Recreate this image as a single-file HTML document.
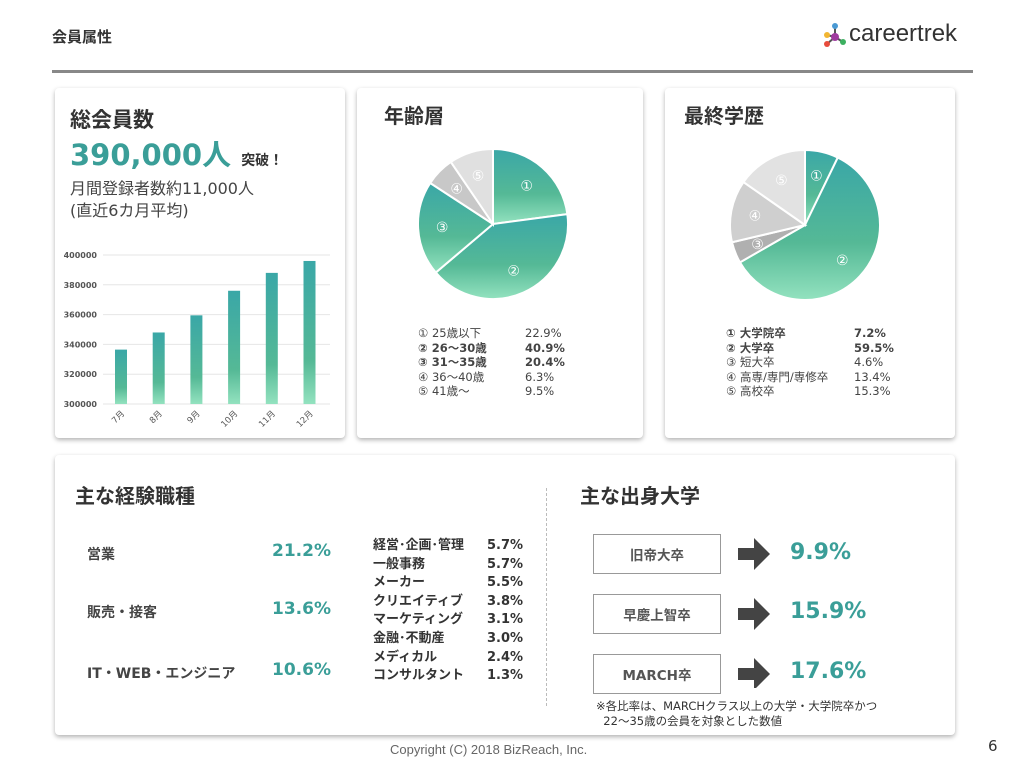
<!DOCTYPE html>
<html><head><meta charset="utf-8"><style>
body{margin:0;width:1024px;height:768px;background:#fff;position:relative;overflow:hidden;font-family:"DejaVu Sans","Noto Sans CJK JP",sans-serif;color:#444}
.a{position:absolute;white-space:nowrap}
.card{position:absolute;background:#fff;border-radius:4px;box-shadow:0 2px 5px rgba(0,0,0,.3)}
.b{font-weight:bold}
.t{color:#3a9e98}
.box{position:absolute;border:1.5px solid #999;width:126px;height:38px;display:flex;align-items:center;justify-content:center;font-weight:bold;font-size:13.5px;color:#555}
</style></head><body>
<div class="a b" style="left:52px;top:26px;font-size:15px;color:#333">会員属性</div>
<div class="a" style="left:822px;top:22px;width:150px;height:28px">
<svg width="30" height="28" style="position:absolute;left:0;top:0"><line x1="13" y1="4" x2="13" y2="15" stroke="#555" stroke-width="2"/><line x1="13" y1="15" x2="5" y2="22" stroke="#555" stroke-width="2"/><line x1="13" y1="15" x2="21" y2="20" stroke="#555" stroke-width="2"/><line x1="13" y1="15" x2="5" y2="13" stroke="#555" stroke-width="2"/><circle cx="13" cy="4" r="3" fill="#4a9ad4"/><circle cx="13" cy="15" r="4" fill="#a03ca0"/><circle cx="5" cy="22" r="3" fill="#e84c3c"/><circle cx="21" cy="20" r="3" fill="#3cb060"/><circle cx="5" cy="13" r="3" fill="#f2b632"/></svg>
<span class="a" style="left:27px;top:-2px;font-size:24px;color:#333;font-family:'Liberation Sans',sans-serif">careertrek</span></div>
<div class="a" style="left:52px;top:70px;width:921px;height:3px;background:#888"></div>

<div class="card" style="left:55px;top:88px;width:290px;height:350px"></div>
<div class="a b" style="left:70px;top:104px;font-size:21px;color:#333">総会員数</div>
<div class="a b t" style="left:70px;top:132px;font-size:29px">390,000人 <span style="font-size:14px;color:#333">突破！</span></div>
<div class="a" style="left:70px;top:178px;font-size:16px;line-height:22px;color:#444">月間登録者数約11,000人<br>(直近6カ月平均)</div>
<svg class="a" id="bar" style="left:0;top:0" width="360" height="450"></svg>

<div class="card" style="left:357px;top:88px;width:286px;height:350px"></div>
<div class="a b" style="left:384px;top:100px;font-size:20px;color:#333">年齢層</div>
<svg class="a" id="pie1" style="left:0;top:0" width="650" height="320"></svg>
<div class="a" id="leg1" style="left:418px;top:326px;font-size:11.5px;line-height:14.5px"></div>

<div class="card" style="left:665px;top:88px;width:290px;height:350px"></div>
<div class="a b" style="left:684px;top:100px;font-size:20px;color:#333">最終学歴</div>
<svg class="a" id="pie2" style="left:0;top:0" width="960" height="320"></svg>
<div class="a" id="leg2" style="left:726px;top:326px;font-size:11.5px;line-height:14.5px"></div>

<div class="card" style="left:55px;top:455px;width:900px;height:280px"></div>
<div class="a b" style="left:75px;top:480px;font-size:20px;color:#333">主な経験職種</div>
<div class="a b" style="left:87px;top:544px;font-size:14px">営業</div>
<div class="a b t" style="left:272px;top:541px;font-size:17px">21.2%</div>
<div class="a b" style="left:87px;top:602px;font-size:14px">販売・接客</div>
<div class="a b t" style="left:272px;top:599px;font-size:17px">13.6%</div>
<div class="a b" style="left:87px;top:663px;font-size:14px">IT・WEB・エンジニア</div>
<div class="a b t" style="left:272px;top:660px;font-size:17px">10.6%</div>
<div class="a b" style="left:373px;top:537px;font-size:13px;line-height:18.6px;color:#333">経営･企画･管理<br>一般事務<br>メーカー<br>クリエイティブ<br>マーケティング<br>金融･不動産<br>メディカル<br>コンサルタント</div>
<div class="a b" style="left:487px;top:537px;font-size:13px;line-height:18.6px;color:#333">5.7%<br>5.7%<br>5.5%<br>3.8%<br>3.1%<br>3.0%<br>2.4%<br>1.3%</div>
<div class="a" style="left:546px;top:488px;height:218px;border-left:1.5px dashed #bbb"></div>
<div class="a b" style="left:580px;top:480px;font-size:20px;color:#333">主な出身大学</div>
<div class="box" style="left:593px;top:534px">旧帝大卒</div>
<div class="box" style="left:593px;top:594px">早慶上智卒</div>
<div class="box" style="left:593px;top:654px">MARCH卒</div>
<svg class="a" style="left:738px;top:538px" width="32" height="150"><g fill="#444"><path d="M0 10h16v-10l16 16-16 16v-10h-16z"/><path d="M0 70h16v-10l16 16-16 16v-10h-16z"/><path d="M0 130h16v-10l16 16-16 16v-10h-16z"/></g></svg>
<div class="a b t" style="left:790px;top:540px;font-size:22px">9.9%</div>
<div class="a b t" style="left:790px;top:599px;font-size:22px">15.9%</div>
<div class="a b t" style="left:790px;top:659px;font-size:22px">17.6%</div>
<div class="a" style="left:596px;top:699px;font-size:11.5px;line-height:15px;color:#333">※各比率は、MARCHクラス以上の大学・大学院卒かつ<br>&nbsp;&nbsp;22〜35歳の会員を対象とした数値</div>
<div class="a" style="left:390px;top:742px;font-size:13px;color:#666;font-family:'Liberation Sans',sans-serif">Copyright (C) 2018 BizReach, Inc.</div>
<div class="a" style="left:988px;top:737px;font-size:15px;color:#333">6</div>

<script>
const months=["7月","8月","9月","10月","11月","12月"];
const members=[336500,348000,359500,376000,388000,396000];
const yTicks=[300000,320000,340000,360000,380000,400000];
const ageLabels=["25歳以下","26〜30歳","31〜35歳","36〜40歳","41歳〜"];
const ageValues=[22.9,40.9,20.4,6.3,9.5];
const ageBold=[false,true,true,false,false];
const eduLabels=["大学院卒","大学卒","短大卒","高専/専門/専修卒","高校卒"];
const eduValues=[7.2,59.5,4.6,13.4,15.3];
const eduBold=[true,true,false,false,false];
const NS="http://www.w3.org/2000/svg";
function mk(p,t,a){const e=document.createElementNS(NS,t);for(const k in a)e.setAttribute(k,a[k]);p.appendChild(e);return e;}
const bar=document.getElementById('bar');
const defs=mk(bar,'defs',{});
const g=mk(defs,'linearGradient',{id:'bg',x1:0,y1:0,x2:0,y2:1});
mk(g,'stop',{offset:'0','stop-color':'#3aa7a7'});mk(g,'stop',{offset:'0.7','stop-color':'#55b996'});mk(g,'stop',{offset:'1','stop-color':'#93e2bf'});
const y=v=>404-(v-300000)/100000*149;
const x=i=>121+i*37.7;
yTicks.forEach(t=>{const l=mk(bar,'line',{x1:103,x2:330,y1:y(t),y2:y(t),stroke:'#e6e6e6'});

const tx=mk(bar,'text',{x:97,y:y(t)+3,'text-anchor':'end','font-size':8,fill:'#555','font-weight':'bold'});tx.textContent=t;
});
months.forEach((m,i)=>{const r=mk(bar,'rect',{x:x(i)-6,y:y(members[i]),width:12,height:404-y(members[i]),fill:'url(#bg)'});

const tx=mk(bar,'text',{x:x(i)+4,y:414,'text-anchor':'end','font-size':8.5,fill:'#555',transform:`rotate(-45 ${x(i)+4} 414)`});tx.textContent=m;
});
const circ="①②③④⑤";
function pie(id,cx,cy,r,vals,cols,pre){const s=document.getElementById(id);const d=mk(s,'defs',{});
const gr=mk(d,'linearGradient',{id:pre+'g',x1:0,y1:0,x2:0,y2:1});
mk(gr,'stop',{offset:'0','stop-color':'#3aa7a7'});mk(gr,'stop',{offset:'0.6','stop-color':'#55b996'});mk(gr,'stop',{offset:'1','stop-color':'#93e2bf'});
const tot=vals.reduce((a,b)=>a+b,0);let a0=0;
vals.forEach((v,i)=>{const a1=a0+v/tot*2*Math.PI;
const p=(a)=>[cx+r*Math.sin(a),cy-r*Math.cos(a)];const [x0,y0]=p(a0),[x1,y1]=p(a1);
const e=mk(s,'path',{d:`M${cx},${cy}L${x0},${y0}A${r},${r} 0 ${a1-a0>Math.PI?1:0} 1 ${x1},${y1}Z`,fill:cols[i],stroke:'#fff','stroke-width':2});

const am=(a0+a1)/2,lr=r*0.68;const t=mk(s,'text',{x:cx+lr*Math.sin(am),y:cy-lr*Math.cos(am)+5,'text-anchor':'middle','font-size':14,fill:'#fff'});t.textContent=circ[i];

a0=a1;});}
pie('pie1',493,224,75,ageValues,['url(#p1g)','url(#p1g)','url(#p1g)','#c8c8c8','#e0e0e0'],'p1');
pie('pie2',805,225,75,eduValues,['url(#p2g)','url(#p2g)','#b0b0b0','#cfcfcf','#e2e2e2'],'p2');
function leg(id,labels,vals,bold,vx){const d=document.getElementById(id);
labels.forEach((l,i)=>{const row=document.createElement('div');row.style.position='relative';row.style.fontWeight=bold[i]?'bold':'normal';
row.innerHTML=circ[i]+' '+l+'<span style="position:absolute;left:'+vx+'px">'+vals[i].toFixed(1)+'%</span>';


d.appendChild(row);});}
leg('leg1',ageLabels,ageValues,ageBold,107);
leg('leg2',eduLabels,eduValues,eduBold,128);
</script>
</body></html>
